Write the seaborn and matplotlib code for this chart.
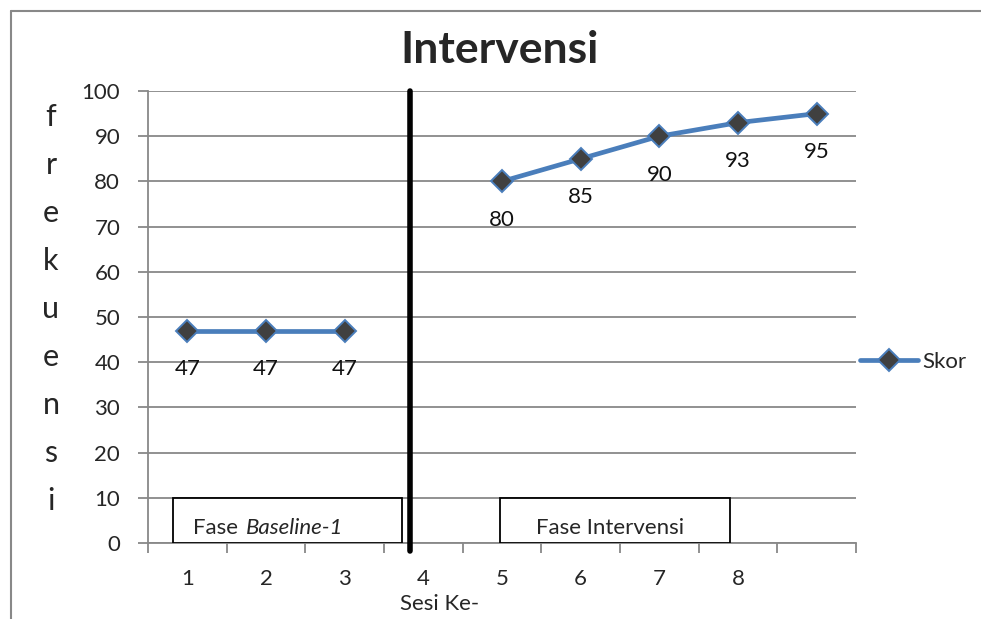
import matplotlib
matplotlib.use("Agg")
import matplotlib.pyplot as plt
from matplotlib.lines import Line2D
from matplotlib.patches import Rectangle
import numpy as np
import pandas as pd
import seaborn as sns

# Scores per session, split by phase
baseline_sessions = [1, 2, 3]
baseline_scores = [47, 47, 47]
intervention_sessions = [5, 6, 7, 8, 9]
intervention_scores = [80, 85, 90, 93, 95]
session_tick_labels = ["1", "2", "3", "4", "5", "6", "7", "8"]
ylabel_text = "frekuensi"

sns.set_theme(style="white")
plt.rcParams["font.family"] = ["Lato", "DejaVu Sans"]

df = pd.DataFrame({
    "sesi": baseline_sessions + intervention_sessions,
    "skor": baseline_scores + intervention_scores,
    "fase": ["baseline"] * len(baseline_sessions) + ["intervensi"] * len(intervention_sessions),
})

fig = plt.figure(figsize=(9.81, 6.19), dpi=100)
ax = fig.add_axes([148 / 981, 1 - 543 / 619, (856 - 148) / 981, (543 - 91) / 619])

FS = 16
line_color = "#4A7EBB"
for phase, sub in df.groupby("fase"):
    sns.lineplot(data=sub, x="sesi", y="skor", ax=ax, color=line_color, linewidth=3.4,
                 marker="D", markersize=11, markerfacecolor="#404040",
                 markeredgecolor=line_color, markeredgewidth=1.4, legend=False)

for x, y in zip(df["sesi"], df["skor"]):
    ax.text(x, y - 8.5, f"{y}", ha="center", va="center", fontsize=FS, color="#111111")

ax.set_xlim(0.5, 9.5)
ax.set_ylim(0, 100)
ax.set_yticks(np.arange(0, 101, 10))
ax.set_yticklabels([str(v) for v in range(0, 101, 10)], fontsize=FS)
ax.set_xticks(np.arange(0.5, 9.6, 1.0))
ax.set_xticklabels([])
ax.set_xticks(np.arange(1, len(session_tick_labels) + 1), minor=True)
ax.set_xticklabels(session_tick_labels, minor=True, fontsize=FS)
ax.tick_params(axis="x", which="minor", length=0, pad=19)
ax.tick_params(axis="x", which="major", length=7, width=1.3, color="#888888", direction="out", bottom=True)
ax.tick_params(axis="y", length=7, width=1.3, color="#888888", direction="out", left=True, pad=13)
ax.grid(axis="y", color="#888888", linewidth=1.3)
ax.grid(axis="x", visible=False)
ax.set_axisbelow(True)
for side in ["top", "right"]:
    ax.spines[side].set_visible(False)
for side in ["left", "bottom"]:
    ax.spines[side].set_color("#888888")
    ax.spines[side].set_linewidth(1.3)
ax.set_xlabel("")
ax.set_ylabel("")

# Phase separator
ax.plot([3.83, 3.83], [-1.8, 100], color="black", linewidth=4, clip_on=False, zorder=5)

# Phase boxes
ax.add_patch(Rectangle((0.82, 0), 2.91, 10, facecolor="white", edgecolor="black", linewidth=1.3, zorder=4))
ax.add_patch(Rectangle((4.97, 0), 2.93, 10, facecolor="white", edgecolor="black", linewidth=1.3, zorder=4))
ax.text(1.07, 3.4, "Fase", ha="left", va="center", fontsize=FS, zorder=6)
ax.text(1.74, 3.4, "Baseline-1", ha="left", va="center", fontsize=FS, style="italic", zorder=6)
ax.text(6.37, 3.4, "Fase Intervensi", ha="center", va="center", fontsize=FS, zorder=6)

# Title, axis labels
fig.text(500 / 981, 1 - 50 / 619, "Intervensi", ha="center", va="center", fontsize=32, fontweight="bold")
fig.text(440 / 981, 1 - 604 / 619, "Sesi Ke-", ha="center", va="center", fontsize=FS)
for i, ch in enumerate(ylabel_text):
    fig.text(51 / 981, 1 - (117 + i * 48) / 619, ch, ha="center", va="center", fontsize=22)

# Legend
handle = Line2D([], [], color=line_color, linewidth=3.4, marker="D", markersize=11,
                markerfacecolor="#404040", markeredgecolor=line_color, markeredgewidth=1.4)
fig.legend([handle], ["Skor"], loc="center left", bbox_to_anchor=(840 / 981, 1 - 362 / 619),
           frameon=False, fontsize=FS, handlelength=2.6, handletextpad=0.2)

# Outer frame
fig.add_artist(Line2D([11 / 981, 11 / 981], [0, 1 - 11 / 619], color="#888888", linewidth=1.5))
fig.add_artist(Line2D([11 / 981, 1], [1 - 11 / 619, 1 - 11 / 619], color="#888888", linewidth=1.5))

fig.savefig("out.png", dpi=100)
